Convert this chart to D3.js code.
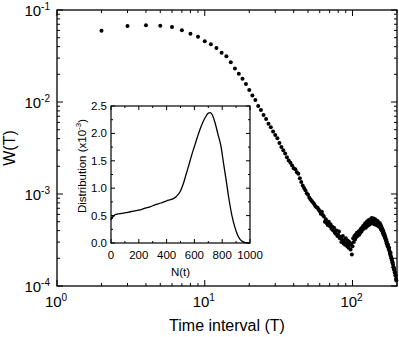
<!DOCTYPE html>
<html>
<head>
<meta charset="utf-8">
<script src="https://cdn.jsdelivr.net/npm/d3@7"></script>
<style>
  body { margin: 0; background: #fff; }
  svg { display: block; font-family: "Liberation Sans", Arial, sans-serif; }
</style>
</head>
<body>
<div id="chart"></div>
<script>
// main series: time interval T (integer steps) and W(T)
const intervalT = d3.range(2, 199);
const waitW = [
  5.96e-2, 6.70e-2, 6.82e-2, 6.76e-2, 6.53e-2, 6.01e-2, 5.52e-2, 5.13e-2, 4.57e-2, 4.24e-2,
  3.86e-2, 3.44e-2, 3.14e-2, 2.70e-2, 2.32e-2, 2.03e-2, 1.79e-2, 1.57e-2, 1.35e-2, 1.18e-2,
  1.05e-2, 9.06e-3, 8.18e-3, 7.24e-3, 6.53e-3, 5.82e-3, 5.31e-3, 4.79e-3, 4.37e-3, 4.03e-3,
  3.59e-3, 3.24e-3, 2.99e-3, 2.75e-3, 2.51e-3, 2.32e-3, 2.19e-3, 2.04e-3, 1.91e-3, 1.86e-3,
  1.72e-3, 1.66e-3, 1.48e-3, 1.35e-3, 1.24e-3, 1.16e-3, 1.10e-3, 1.02e-3, 9.8e-4, 9.1e-4,
  8.7e-4, 8.4e-4, 8.1e-4, 7.8e-4, 7.4e-4, 7.2e-4, 7.1e-4, 6.8e-4, 6.5e-4,
  6.1e-4, 6.4e-4, 5.9e-4, 5.7e-4, 5.0e-4, 5.3e-4, 4.8e-4, 4.6e-4, 5.0e-4, 4.5e-4,
  4.7e-4, 4.2e-4, 4.4e-4, 4.0e-4, 4.3e-4, 3.8e-4, 3.7e-4, 4.0e-4, 3.5e-4, 3.6e-4,
  3.9e-4, 3.3e-4, 3.4e-4, 3.0e-4, 3.2e-4, 3.5e-4, 2.9e-4, 3.1e-4, 2.8e-4, 3.3e-4,
  2.9e-4, 2.7e-4, 3.1e-4, 2.6e-4, 3.0e-4, 2.8e-4, 2.5e-4, 2.9e-4, 2.2e-4, 2.7e-4,
  3.3e-4, 3.0e-4, 3.5e-4, 3.2e-4, 3.6e-4, 3.4e-4, 3.8e-4, 3.5e-4, 3.7e-4, 3.9e-4,
  3.6e-4, 4.0e-4, 3.8e-4, 4.2e-4, 3.9e-4, 4.3e-4, 4.1e-4, 4.5e-4, 4.2e-4, 4.6e-4,
  4.4e-4, 4.8e-4, 4.3e-4, 4.7e-4, 5.0e-4, 4.5e-4, 4.9e-4, 5.2e-4, 4.6e-4, 5.0e-4,
  4.7e-4, 5.3e-4, 4.9e-4, 5.1e-4, 5.5e-4, 4.8e-4, 5.2e-4, 5.0e-4, 5.4e-4, 4.7e-4,
  5.1e-4, 5.3e-4, 4.9e-4, 5.2e-4, 4.6e-4, 5.0e-4, 4.8e-4, 5.1e-4, 4.5e-4, 4.9e-4,
  4.7e-4, 4.4e-4, 4.8e-4, 4.3e-4, 4.6e-4, 4.1e-4, 4.4e-4, 4.0e-4, 4.2e-4, 3.8e-4,
  4.0e-4, 3.6e-4, 3.8e-4, 3.5e-4, 3.6e-4, 3.3e-4, 3.4e-4, 3.1e-4, 3.2e-4, 2.9e-4,
  3.0e-4, 2.8e-4, 2.7e-4, 2.8e-4, 2.6e-4, 2.5e-4, 2.6e-4, 2.4e-4, 2.3e-4, 2.2e-4,
  2.3e-4, 2.1e-4, 2.0e-4, 2.0e-4, 1.9e-4, 1.8e-4, 1.8e-4, 1.7e-4, 1.6e-4, 1.6e-4,
  1.5e-4, 1.5e-4, 1.4e-4, 1.4e-4, 1.3e-4, 1.3e-4, 1.2e-4, 1.15e-4
];
const xMajor = [1, 10, 100];
const xExp = ["0", "1", "2"];
const yMajor = [1e-1, 1e-2, 1e-3, 1e-4];
const yExp = ["-1", "-2", "-3", "-4"];

// inset series: N(t) vs distribution (x10^-3)
const insetN = [0, 5, 10, 15, 20, 30, 50, 80, 120, 160, 200, 240, 280, 320, 360, 400, 440, 470,
  500, 520, 540, 560, 580, 600, 620, 640, 660, 680, 700, 715, 730, 750, 770, 790, 810, 830,
  850, 870, 890, 910, 930, 950, 970, 990, 1000];
const insetD = [0.42, 0.47, 0.45, 0.50, 0.49, 0.52, 0.53, 0.54, 0.56, 0.58, 0.60, 0.63, 0.66, 0.70,
  0.73, 0.77, 0.80, 0.85, 0.95, 1.08, 1.25, 1.42, 1.60, 1.76, 1.92, 2.07, 2.20, 2.30, 2.37, 2.38,
  2.33, 2.18, 1.98, 1.78, 1.45, 1.12, 0.78, 0.50, 0.30, 0.15, 0.06, 0.02, 0.005, 0, 0];
const insetXTicks = [0, 200, 400, 600, 800, 1000];
const insetYTicks = [0.0, 0.5, 1.0, 1.5, 2.0, 2.5];

const W = 399, H = 337;
const box = { left: 57, top: 10, right: 397, bottom: 286 };

const svg = d3.select("#chart").append("svg")
  .attr("width", W).attr("height", H);

const x = d3.scaleLog().domain([1, 200]).range([box.left, box.right]);
const y = d3.scaleLog().domain([1e-4, 1e-1]).range([box.bottom, box.top]);

const xMinor = [];
[1, 10, 100].forEach(d => { for (let k = 2; k <= 9; k++) if (d * k <= 200) xMinor.push(d * k); });
const yMinor = [];
[1e-4, 1e-3, 1e-2].forEach(d => { for (let k = 2; k <= 9; k++) yMinor.push(d * k); });

function tickLines(g, vals, scale, orient, len) {
  g.selectAll(null).data(vals).join("line")
    .attr("x1", d => orient === "v" ? scale(d) : 0)
    .attr("x2", d => orient === "v" ? scale(d) : len)
    .attr("y1", d => orient === "v" ? 0 : scale(d))
    .attr("y2", d => orient === "v" ? len : scale(d))
    .attr("stroke", "#000").attr("stroke-width", 1);
}

// main frame ticks (inward, mirrored)
const axes = svg.append("g");
tickLines(axes.append("g").attr("transform", `translate(0,${box.bottom})`), xMajor, x, "v", -6);
tickLines(axes.append("g").attr("transform", `translate(0,${box.bottom})`), xMinor, x, "v", -3);
tickLines(axes.append("g").attr("transform", `translate(0,${box.top})`), xMajor, x, "v", 6);
tickLines(axes.append("g").attr("transform", `translate(0,${box.top})`), xMinor, x, "v", 3);
tickLines(axes.append("g").attr("transform", `translate(${box.left},0)`), yMajor, y, "h", 6);
tickLines(axes.append("g").attr("transform", `translate(${box.left},0)`), yMinor, y, "h", 3);
tickLines(axes.append("g").attr("transform", `translate(${box.right},0)`), yMajor, y, "h", -6);
tickLines(axes.append("g").attr("transform", `translate(${box.right},0)`), yMinor, y, "h", -3);

svg.append("rect")
  .attr("x", box.left).attr("y", box.top)
  .attr("width", box.right - box.left).attr("height", box.bottom - box.top)
  .attr("fill", "none").attr("stroke", "#000").attr("stroke-width", 1.3);

// tick labels with superscripts
xMajor.forEach((d, i) => {
  const t = svg.append("text")
    .attr("x", x(d) - 1).attr("y", box.bottom + 21)
    .attr("text-anchor", "middle").style("font-size", "15px");
  t.append("tspan").text("10");
  t.append("tspan").attr("dy", -6).style("font-size", "10px").text(xExp[i]);
});
yMajor.forEach((d, i) => {
  const t = svg.append("text")
    .attr("x", box.left - 7).attr("y", y(d) + 6)
    .attr("text-anchor", "end").style("font-size", "15px");
  t.append("tspan").text("10");
  t.append("tspan").attr("dy", -6).style("font-size", "10px").text(yExp[i]);
});

svg.append("text")
  .attr("x", (box.left + box.right) / 2).attr("y", 331)
  .attr("text-anchor", "middle").style("font-size", "16px")
  .text("Time interval (T)");
svg.append("text")
  .attr("transform", `translate(15,148) rotate(-90)`)
  .attr("text-anchor", "middle").style("font-size", "16px")
  .text("W(T)");

// scatter points
svg.append("g").selectAll("circle")
  .data(intervalT.map((t, i) => ({ t, w: waitW[i] })))
  .join("circle")
  .attr("cx", d => x(d.t)).attr("cy", d => y(d.w))
  .attr("r", 2).attr("fill", "#000");

// ---- inset ----
const ib = { left: 111, top: 106, right: 250, bottom: 243 };
const ix = d3.scaleLinear().domain([0, 1000]).range([ib.left, ib.right]);
const iy = d3.scaleLinear().domain([0, 2.5]).range([ib.bottom, ib.top]);

const inset = svg.append("g");
inset.append("rect")
  .attr("x", ib.left).attr("y", ib.top)
  .attr("width", ib.right - ib.left).attr("height", ib.bottom - ib.top)
  .attr("fill", "#fff");

const ixMinor = d3.range(100, 1000, 200);
const iyMinor = d3.range(0.25, 2.5, 0.5);
tickLines(inset.append("g").attr("transform", `translate(0,${ib.bottom})`), insetXTicks, ix, "v", -4);
tickLines(inset.append("g").attr("transform", `translate(0,${ib.bottom})`), ixMinor, ix, "v", -2);
tickLines(inset.append("g").attr("transform", `translate(0,${ib.top})`), insetXTicks, ix, "v", 4);
tickLines(inset.append("g").attr("transform", `translate(0,${ib.top})`), ixMinor, ix, "v", 2);
tickLines(inset.append("g").attr("transform", `translate(${ib.left},0)`), insetYTicks, iy, "h", 4);
tickLines(inset.append("g").attr("transform", `translate(${ib.left},0)`), iyMinor, iy, "h", 2);
tickLines(inset.append("g").attr("transform", `translate(${ib.right},0)`), insetYTicks, iy, "h", -4);
tickLines(inset.append("g").attr("transform", `translate(${ib.right},0)`), iyMinor, iy, "h", -2);

inset.append("path")
  .datum(insetN.map((n, i) => [n, insetD[i]]))
  .attr("d", d3.line().x(d => ix(d[0])).y(d => iy(d[1])).curve(d3.curveMonotoneX))
  .attr("fill", "none").attr("stroke", "#000").attr("stroke-width", 1.3);

inset.append("rect")
  .attr("x", ib.left).attr("y", ib.top)
  .attr("width", ib.right - ib.left).attr("height", ib.bottom - ib.top)
  .attr("fill", "none").attr("stroke", "#000").attr("stroke-width", 1.2);

inset.selectAll(".ixl").data(insetXTicks).join("text")
  .attr("x", d => ix(d)).attr("y", ib.bottom + 16)
  .attr("text-anchor", "middle").style("font-size", "11.5px")
  .text(d => d);
inset.selectAll(".iyl").data(insetYTicks).join("text")
  .attr("x", ib.left - 4).attr("y", d => iy(d) + 4)
  .attr("text-anchor", "end").style("font-size", "11.5px")
  .text(d => d.toFixed(1));

inset.append("text")
  .attr("x", (ib.left + ib.right) / 2).attr("y", 276)
  .attr("text-anchor", "middle").style("font-size", "11.5px")
  .text("N(t)");
const dl = inset.append("text")
  .attr("transform", `translate(86,166) rotate(-90)`)
  .attr("text-anchor", "middle").style("font-size", "11.5px");
dl.append("tspan").text("Distribution (x10");
dl.append("tspan").attr("dy", -5).style("font-size", "8px").text("-3");
dl.append("tspan").attr("dy", 5).text(")");
</script>
</body>
</html>
